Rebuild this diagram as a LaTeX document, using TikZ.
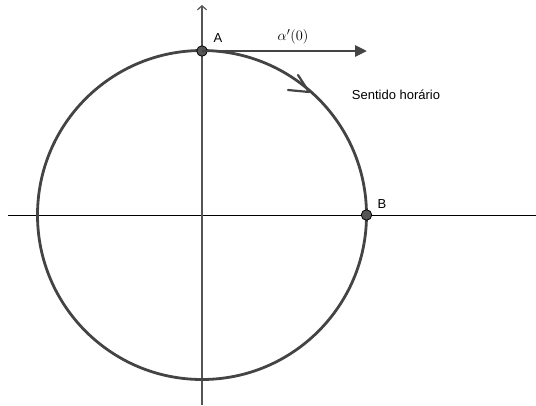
\documentclass[tikz,border=0pt]{standalone}
\usepackage{fontspec}
\setmainfont{Latin Modern Roman}
\newfontfamily\lab{Liberation Sans}
\usetikzlibrary{arrows.meta}
\definecolor{curve}{HTML}{444444}
\definecolor{axisgray}{HTML}{555555}
\definecolor{ptfill}{HTML}{555555}
\tikzset{
  pt/.style={circle,fill=ptfill,draw=black,line width=0.8pt,inner sep=0pt,minimum size=10.5pt},
  lbl/.style={font=\lab\fontsize{13}{15}\selectfont,inner sep=0pt,text=black},
}
\begin{document}
\begin{tikzpicture}[x=1pt,y=-1pt]
\useasboundingbox (0,0) rectangle (536,405);
\coordinate (O) at (202,215);
\coordinate (xl) at (8,215);
\coordinate (xr) at (536,215);
\coordinate (yb) at (202,405);
\coordinate (yt) at (202,5);
\draw[black,line width=1pt] (xl) -- (xr);
\draw[axisgray,line width=1.5pt,-{Straight Barb[length=4pt,width=9pt,line width=1.2pt]}] (yb) -- (yt);
\draw[curve,line width=2.8pt] (O) circle[radius=164.5];
% direction mark on circle
\coordinate (m) at (309,92);
\coordinate (m1) at (298,75);
\coordinate (m2) at (288,90);
\draw[curve,line width=2.2pt,line cap=round,line join=round] (m1) -- (m) -- (m2);
\node[pt] (A) at (202,51) {};
\node[pt] (B) at (366.5,215) {};
\coordinate (v) at (367,51);
\draw[curve,line width=2.8pt,-{Triangle[length=12pt,width=11pt]}] (A.center) -- (v);
\node[lbl] (Al) at (218,38) {A};
\node[lbl] (Bl) at (382,204) {B};
\node[inner sep=0pt,font=\fontsize{15}{17}\selectfont] (al) at (293,37) {$\alpha'(0)$};
\node[lbl] (s) at (396,95) {Sentido horário};
\end{tikzpicture}
\end{document}
